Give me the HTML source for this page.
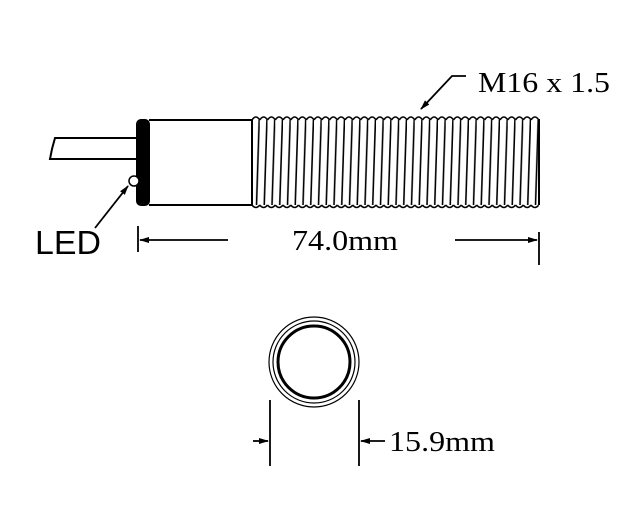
<!DOCTYPE html>
<html><head><style>body{margin:0;background:#fff}svg{display:block}</style></head><body>
<svg width="636" height="530" viewBox="0 0 636 530" xmlns="http://www.w3.org/2000/svg">
<defs>
<marker id="a" markerWidth="10" markerHeight="8" refX="9" refY="4" orient="auto" markerUnits="userSpaceOnUse"><path d="M0,1 L10,4 L0,7 Z" fill="#000"/></marker>
<pattern id="t" patternUnits="userSpaceOnUse" x="252" y="112" width="7.75" height="100">
<path d="M0,8 Q3.9,2 7.75,8 M0,93 Q3.9,98 7.75,93 M7.2,8 L4.5,93" stroke="#000" stroke-width="1.6" fill="none"/>
</pattern>
</defs>
<g stroke="#000" fill="none" stroke-width="2">
<path d="M137,138 L55,138 L52,149 L50,159 L137,159"/>
<rect x="137" y="120" width="12" height="85" rx="4" fill="#000"/>
<path d="M149,120 L252,120 M149,205 L252,205 M252,120 L252,205"/>
<circle cx="134" cy="181" r="5" fill="#fff" stroke-width="1.5"/>
</g>
<rect x="252" y="112" width="286.75" height="100" fill="url(#t)"/>
<path d="M539,119 L539,205" stroke="#000" stroke-width="2"/>
<g stroke="#000" stroke-width="1.8" fill="none">
<path d="M466,76 L452,76 L421,109" marker-end="url(#a)"/>
<path d="M95,228 L128,186" marker-end="url(#a)"/>
<path d="M138,226 L138,252"/>
<path d="M228,240 L140,240" marker-end="url(#a)"/>
<path d="M455,240 L537,240" marker-end="url(#a)"/>
<path d="M539,232 L539,265"/>
<path d="M270,400 L270,466 M359,400 L359,466"/>
<path d="M253,441 L268,441" marker-end="url(#a)"/>
<path d="M385,441 L361,441" marker-end="url(#a)"/>
</g>
<circle cx="314" cy="362" r="45" stroke="#000" stroke-width="1.2" fill="none"/>
<circle cx="314" cy="362" r="41" stroke="#000" stroke-width="1.2" fill="none"/>
<circle cx="314" cy="362" r="36" stroke="#000" stroke-width="3" fill="none"/>
<text x="478" y="92" font-family="Liberation Serif, serif" font-size="28" textLength="132" lengthAdjust="spacingAndGlyphs">M16 x 1.5</text>
<text x="35" y="254" font-family="Liberation Sans, sans-serif" font-size="33" textLength="66" lengthAdjust="spacingAndGlyphs">LED</text>
<text x="292" y="250" font-family="Liberation Serif, serif" font-size="28" textLength="106" lengthAdjust="spacingAndGlyphs">74.0mm</text>
<text x="389" y="451" font-family="Liberation Serif, serif" font-size="29" textLength="106" lengthAdjust="spacingAndGlyphs">15.9mm</text>
</svg>
</body></html>
